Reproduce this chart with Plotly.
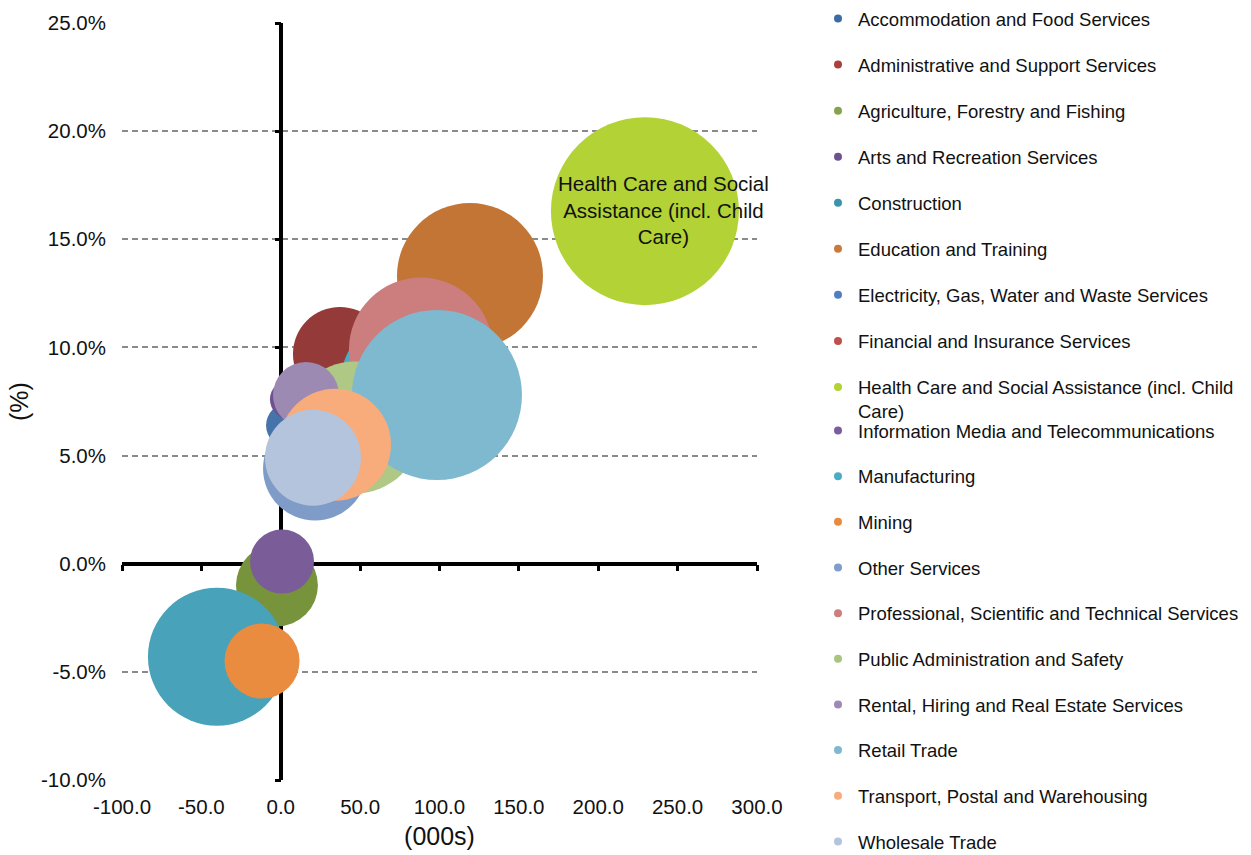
import plotly.graph_objects as go

industries = [
    "Accommodation and Food Services",
    "Administrative and Support Services",
    "Agriculture, Forestry and Fishing",
    "Arts and Recreation Services",
    "Construction",
    "Education and Training",
    "Electricity, Gas, Water and Waste Services",
    "Financial and Insurance Services",
    "Health Care and Social Assistance (incl. Child Care)",
    "Information Media and Telecommunications",
    "Manufacturing",
    "Mining",
    "Other Services",
    "Professional, Scientific and Technical Services",
    "Public Administration and Safety",
    "Rental, Hiring and Real Estate Services",
    "Retail Trade",
    "Transport, Postal and Warehousing",
    "Wholesale Trade",
]
# employment change (000s)
change_000s = [94.0, 37.3, -2.4, 0.8, -40.2, 119.2, 4.6, 84.6, 229.4, 5.8,
               68.8, -11.8, 21.6, 88.3, 46.8, 15.9, 98.4, 34.2, 20.3]
# employment growth (%)
growth_pct = [7.6, 9.7, -1.0, 0.1, -4.3, 13.3, 6.4, 9.9, 16.3, 7.6,
              8.7, -4.5, 4.4, 9.9, 6.3, 7.8, 7.8, 5.5, 4.9]
# bubble size (employment, 000s)
employment = [514, 375, 285, 174, 808, 905, 82, 424, 1500, 68,
              391, 239, 459, 880, 740, 185, 1227, 532, 391]

# axis ticks
x_ticks = [-100, -50, 0, 50, 100, 150, 200, 250, 300]
x_tick_labels = ["-100.0", "-50.0", "0.0", "50.0", "100.0", "150.0", "200.0", "250.0", "300.0"]
y_ticks = [-10, -5, 0, 5, 10, 15, 20, 25]
y_tick_labels = ["-10.0%", "-5.0%", "0.0%", "5.0%", "10.0%", "15.0%", "20.0%", "25.0%"]

colors = ["#3D6CA8", "#943B3A", "#77933C", "#7A5C98", "#47A2BA", "#C27535",
          "#4673AA", "#B9504C", "#B2D235", "#6E5290", "#4BACC6", "#E98C3F",
          "#7F9CC9", "#CB7E7D", "#AFC886", "#9D8AB3", "#7EB9CF", "#F8AC7C",
          "#B5C4DD"]
legend_colors = ["#3B6BA5", "#A8403D", "#86A24A", "#6E5290", "#3B94AB", "#C77A3A",
                 "#4F7FC0", "#C0504D", "#B2D235", "#7B5C9E", "#4BACC6", "#E98B3F",
                 "#7F9DCA", "#CC7E7D", "#A8C47E", "#9D8AB3", "#7EB9CF", "#F8AC7C",
                 "#B5C4DD"]
legend_labels = [n if not n.startswith("Health") else
                 "Health Care and Social Assistance (incl. Child<br>Care)" for n in industries]

FONT = "Liberation Sans, Arial, sans-serif"
MAX_D = 188
sizeref = 2.0 * max(employment) / (MAX_D ** 2)

fig = go.Figure()
for i, name in enumerate(industries):
    fig.add_trace(go.Scatter(
        x=[change_000s[i]], y=[growth_pct[i]], mode="markers", name=name,
        marker=dict(size=[employment[i]], sizemode="area", sizeref=sizeref,
                    color=colors[i], opacity=1, line=dict(width=0)),
        showlegend=False, hovertemplate=name + ": %{x:.1f}, %{y:.1f}%<extra></extra>",
    ))

# legend entries (small dots)
for i, name in enumerate(industries):
    fig.add_trace(go.Scatter(
        x=[None], y=[None], mode="markers", name=legend_labels[i],
        marker=dict(size=8, color=legend_colors[i]),
        legend="legend" if i < 9 else "legend2", legendgroup=name,
        hoverinfo="skip",
    ))

# helper trace for the tick-mark axes
fig.add_trace(go.Scatter(x=[None], y=[None], xaxis="x2", yaxis="y2",
                         showlegend=False, hoverinfo="skip"))

hc = industries.index("Health Care and Social Assistance (incl. Child Care)")
fig.add_annotation(x=change_000s[hc], y=growth_pct[hc], xshift=19, yshift=1,
                   text="Health Care and Social<br>Assistance (incl. Child<br>Care)",
                   showarrow=False, font=dict(family=FONT, size=20.5, color="#111"),
                   align="center")

xr = [-100, 300]
yr = [-10, 25]
H = 855
LEG_FONT = dict(family=FONT, size=18.5, color="#111")
LEG_COMMON = dict(xref="container", yref="container", x=818 / 1251, xanchor="left",
                  yanchor="top", font=LEG_FONT, itemwidth=30,
                  itemclick=False, itemdoubleclick=False, maxheight=2000,
                  bgcolor="rgba(0,0,0,0)", valign="top")
fig.update_layout(
    width=1251, height=H,
    margin=dict(l=122, r=494, t=23, b=75, autoexpand=False),
    paper_bgcolor="white", plot_bgcolor="white",
    font=dict(family=FONT, size=20.5, color="#111"),
    xaxis=dict(range=xr, tickmode="array", tickvals=x_ticks, ticktext=x_tick_labels,
               showgrid=False,
               zeroline=True, zerolinecolor="black", zerolinewidth=3.5,
               showline=False, ticks="", ticklabelstandoff=12, automargin=False,
               title=dict(text="(000s)", standoff=10), fixedrange=True),
    yaxis=dict(range=yr, tickmode="array", tickvals=y_ticks, ticktext=y_tick_labels,
               showgrid=True, gridcolor="#8A8A8A", gridwidth=1.6, griddash="6px,4px",
               zeroline=True, zerolinecolor="black", zerolinewidth=3.5,
               showline=False, ticks="", ticklabelstandoff=15, automargin=False,
               title=dict(text="(%)", standoff=5), fixedrange=True),
    xaxis2=dict(range=xr, tickmode="array", tickvals=x_ticks, overlaying="x", anchor="free",
                position=(0 - yr[0]) / (yr[1] - yr[0]), side="bottom",
                ticks="outside", ticklen=6, tickwidth=2.5, tickcolor="black",
                showticklabels=False, showgrid=False, zeroline=False, showline=False,
                layer="below traces", automargin=False),
    yaxis2=dict(range=yr, tickmode="array", tickvals=y_ticks, overlaying="y", anchor="free",
                position=(0 - xr[0]) / (xr[1] - xr[0]), side="left",
                ticks="outside", ticklen=6, tickwidth=2.5, tickcolor="black",
                showticklabels=False, showgrid=False, zeroline=False, showline=False,
                layer="below traces", automargin=False),
    legend=dict(y=1 - (-0.5) / H, tracegroupgap=19, **LEG_COMMON),
    legend2=dict(y=1 - 412 / H, tracegroupgap=18.6, **LEG_COMMON),
    showlegend=True,
)

fig.write_html("out.html")
